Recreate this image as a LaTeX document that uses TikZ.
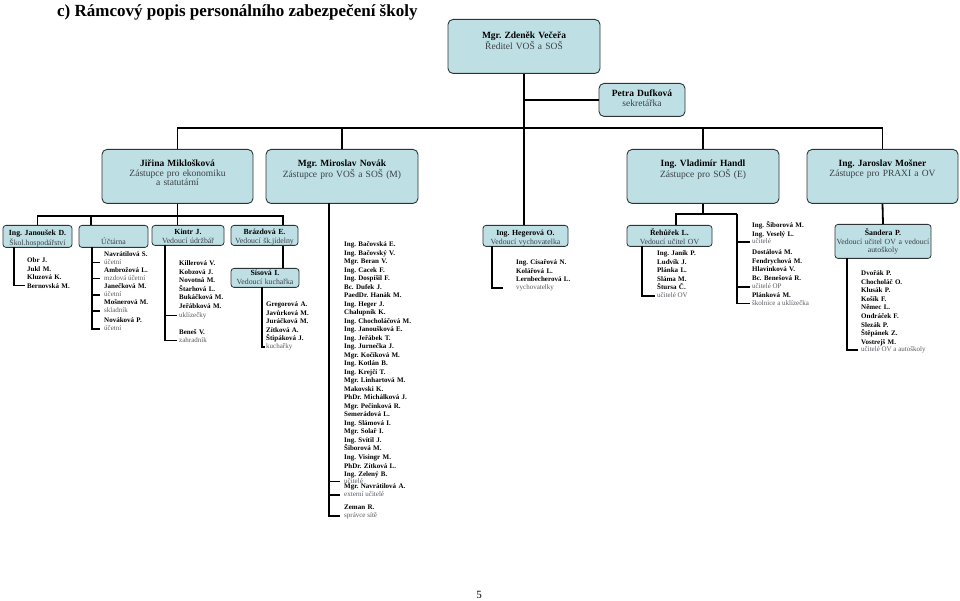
\documentclass[tikz,border=0pt]{standalone}
\usepackage{fontspec}
\setmainfont{Liberation Serif}
\usepackage{xcolor}
\usetikzlibrary{positioning}
\definecolor{boxfill}{HTML}{BEE0E4}
\definecolor{boxline}{HTML}{2E3336}
\definecolor{deptgrey}{HTML}{3A3F45}
\definecolor{rolegrey}{HTML}{55595F}
\newcommand{\dept}[1]{\textcolor{deptgrey}{#1}}
\tikzset{
  head/.style={rectangle, rounded corners=5pt, draw=boxline, fill=boxfill,
               line width=0.9pt, align=center, anchor=north, text width=#1,
               inner xsep=3pt, inner ysep=0pt, font=\fontsize{9.5}{9.5}\selectfont,
               text height=17.2pt, text depth=36.8pt},
  unit/.style={rectangle, rounded corners=3pt, draw=boxline, fill=boxfill,
               line width=0.8pt, align=center, anchor=north, text width=#1,
               inner xsep=1pt, inner ysep=0pt, font=\fontsize{7.8}{8.2}\selectfont,
               text height=10.6pt, text depth=11.4pt},
  who/.style={anchor=north west, align=left, text width=90pt, inner sep=0pt,
              text height=5pt, font=\bfseries\fontsize{7}{8.6}\selectfont},
  job/.style={anchor=west, inner sep=0pt, text height=5pt, text depth=1.6pt,
              text=rolegrey, font=\fontsize{7}{8.6}\selectfont},
  link/.style={line width=1.8pt, draw=black},
  stub/.style={link, shorten >=#1},
}

\begin{document}
\frenchspacing
\begin{tikzpicture}[x=1pt, y=-1pt]
  \useasboundingbox (0,0) rectangle (960,601);
  \node[anchor=west, inner sep=0pt, font=\bfseries\fontsize{17}{20}\selectfont] (title) at (57,12)
    {c) Rámcový popis personálního zabezpečení školy};

  % vedeni
  \node[head=146pt, text height=19.2pt, text depth=34.8pt] (dir) at (524,19)
    {\textbf{Mgr. Zdeněk Večeřa}\\ \dept{Ředitel VOŠ a SOŠ}};
  \node[head=80pt, text height=13.2pt, text depth=19.8pt] (petra) at (642,83)
    {\textbf{Petra Dufková}\\ \dept{sekretářka}};

  \node[head=145pt] (jirina) at (177.5,149) {\textbf{Jiřina Miklošková}\\ \dept{Zástupce pro ekonomiku}\\ \dept{a statutární}};
  \node[head=146pt] (novak) at (342,149) {\textbf{Mgr. Miroslav Novák}\\ \dept{Zástupce pro VOŠ a SOŠ (M)}};
  \node[head=146pt] (handl) at (703,149) {\textbf{Ing. Vladimír Handl}\\ \dept{Zástupce pro SOŠ (E)}};
  \node[head=145pt] (mosner) at (882.5,149) {\textbf{Ing. Jaroslav Mošner}\\ \dept{Zástupce pro PRAXI a OV}};

  % useky
  \node[unit=67pt] (janousek) at (37.5,225) {\textbf{Ing. Janoušek D.}\\ \dept{Škol.hospodářství}};
  \node[unit=67pt] (uctarna) at (113.5,225) {\mbox{}\\ \dept{Účtárna}};
  \node[unit=70pt, text height=9.6pt, text depth=10.4pt] (kintr) at (188,225) {\textbf{Kintr J.}\\ \dept{Vedoucí údržbář}};
  \node[unit=65pt, text height=9.6pt, text depth=10.4pt] (brazdova) at (264.5,225) {\textbf{Brázdová E.}\\ \dept{Vedoucí šk.jídelny}};
  \node[unit=66pt, text height=7.6pt, text depth=11.4pt] (sisova) at (265,268) {\textbf{Sísová I.}\\ \dept{Vedoucí kuchařka}};
  \node[unit=83pt, text depth=10.4pt] (hegerova) at (525.5,225) {\textbf{Ing. Hegerová O.}\\ \dept{Vedoucí vychovatelka}};
  \node[unit=83pt, text depth=10.4pt] (rehurek) at (669.5,225) {\textbf{Řehůřek L.}\\ \dept{Vedoucí učitel OV}};
  \node[unit=94pt, text height=11.6pt, text depth=22.4pt] (sandera) at (883,224)
    {\textbf{Šandera P.}\\ \dept{Vedoucí učitel OV a vedoucí}\\ \dept{autoškoly}};

  % lide
  \node[who] (janStaff) at (27,257.3) {Obr J.\\ Jukl M.\\ Kluzová K.\\ Bernovská M.};
  \node[who] (kinStaff) at (179,260.3) {Killerová V.\\ Kobzová J.\\ Novotná M.\\ Štarhová L.\\ Bukáčková M.\\ Jeřábková M.};
  \node[job] (kinJob1) at (179,315.5) {uklízečky};
  \node[who] (kinStaff2) at (179,329.3) {Beneš V.};
  \node[job] (kinJob2) at (179,340.5) {zahradník};
  \node[who] (sisStaff) at (266,301.3) {Gregorová A.\\ Javůrková M.\\ Juráčková M.\\ Zítková A.\\ Štipáková J.};
  \node[job] (sisJob) at (266,347) {kuchařky};
  \node[who, font=\bfseries\fontsize{7}{8.52}\selectfont] (tchStaff) at (344,241.3)
    {Ing. Bačovská E.\\ Ing. Bačovský V.\\ Mgr. Beran V.\\ Ing. Cacek F.\\ Ing. Dospíšil F.\\
     Bc. Dufek J.\\ PaedDr. Hanák M.\\ Ing. Heger J.\\ Chalupník K.\\ Ing. Chocholáčová M.\\
     Ing. Janoušková E.\\ Ing. Jeřábek T.\\ Ing. Jurnečka J.\\ Mgr. Kočíková M.\\ Ing. Kotlán B.\\
     Ing. Krejčí T.\\ Mgr. Linhartová M.\\ Makovski K.\\ PhDr. Michálková J.\\ Mgr. Pečinková R.\\
     Semerádová L.\\ Ing. Slámová I.\\ Mgr. Solař I.\\ Ing. Svítil J.\\ Šiborová M.\\
     Ing. Visingr M.\\ PhDr. Zítková L.\\ Ing. Zelený B.};
  \node[job] (tchJob1) at (344,481.5) {učitelé};
  \node[who] (extStaff) at (344,483.3) {Mgr. Navrátilová A.};
  \node[job] (tchJob2) at (344,495) {externí učitelé};
  \node[who] (netStaff) at (344,504.3) {Zeman R.};
  \node[job] (tchJob3) at (344,516) {správce sítě};
  \node[who] (hegStaff) at (516,259.3) {Ing. Císařová N.\\ Kolářová L.\\ Lernbecherová L.};
  \node[job] (hegJob) at (516,288) {vychovatelky};
  \node[who] (rehStaff) at (657,250.3) {Ing. Janík P.\\ Ludvík J.\\ Plánka L.\\ Sláma M.\\ Štursa Č.};
  \node[job] (rehJob) at (657,296) {učitelé OV};
  \node[who] (ovStaff) at (752,222.3) {Ing. Šiborová M.\\ Ing. Veselý L.};
  \node[job] (ovJob1) at (752,242) {učitelé};
  \node[who] (opStaff) at (752,249.3) {Dostálová M.\\ Fendrychová M.\\ Hlavinková V.\\ Bc. Benešová R.};
  \node[job] (ovJob2) at (752,287) {učitelé OP};
  \node[who] (janitorStaff) at (752,292.3) {Plánková M.};
  \node[job] (ovJob3) at (752,303.5) {školnice a uklízečka};
  \node[who] (sanStaff) at (861,270.3) {Dvořák P.\\ Chocholáč O.\\ Klusák P.\\ Košík F.\\ Němec L.\\ Ondráček F.\\ Slezák P.\\ Štěpánek Z.\\ Vostrejš M.};
  \node[job] (sanJob) at (861,350) {učitelé OV a autoškoly};

  \node[font=\fontsize{11}{12}\selectfont] (page) at (479,595) {5};

  % spoje
  \coordinate (topBus) at (525,128);
  \coordinate (ekoBus) at (283,216);
  \coordinate (uctTop) at (91,216);
  \coordinate (ovL) at (676,214);
  \coordinate (ovR) at (737,214);
  \coordinate (janV) at (14,247);
  \coordinate (janEnd) at (25,285.5);
  \coordinate (uctV) at (92,247);
  \coordinate (kinV) at (165,245);
  \coordinate (sisV) at (262,287);
  \coordinate (tchV) at (329,203);
  \coordinate (hegV) at (492,246);
  \coordinate (rehV) at (642,246);
  \coordinate (sanV) at (847,258);

  \draw[link] (dir.south) -- (dir.south |- hegerova.north);
  \draw[link] (dir.south |- petra.west) -- (petra.west);
  \draw[link] (jirina.north) |- (topBus) -| (mosner.north);
  \draw[link] (novak.north) -- (novak.north |- topBus);
  \draw[link] (handl.north) -- (handl.north |- topBus);

  \draw[link] (jirina.south) -- (jirina.south |- kintr.north);
  \draw[link] (janousek.north) |- (ekoBus) -- (ekoBus |- brazdova.north);
  \draw[link] (uctTop) -- (uctTop |- uctarna.north);
  \draw[link] (ekoBus |- brazdova.south) -- (ekoBus |- sisova.north);
  \draw[link] (handl.south) -- (handl.south |- ovL);
  \draw[link] (ovL |- rehurek.north) -- (ovL) -- (ovR);
  \draw[link] (mosner.south) -- (sandera.north);

  \draw[link] (janV) |- (janEnd);
  \foreach \nm/\rl/\y [count=\i] in {Navrátilová S./účetní/254, Ambrožová L./mzdová účetní/270,
      Janečková M./účetní/286.5, Mošnerová M./skladník/302, Nováková P./účetní/320} {
    \node[who] (uctName\i) at (104,\y-2.7) {\nm};
    \node[job] (uctJob\i) at (104,\y+8.6) {\rl};
    \draw[stub=4pt] (uctV) |- (uctJob\i.west);
  }
  \foreach \j in {kinJob1,kinJob2} \draw[stub=2pt] (kinV) |- (\j.west);
  \draw[stub=1pt] (sisV) |- (sisJob.west);
  \foreach \j in {tchJob1,tchJob2,tchJob3} \draw[stub=4pt] (tchV) |- (\j.west);
  \draw[stub=13pt] (hegV) |- (hegJob.west);
  \draw[stub=2pt] (rehV) |- (rehJob.west);
  \foreach \j in {ovJob1,ovJob2,ovJob3} \draw[stub=2pt] (ovR) |- (\j.west);
  \draw[stub=3pt] (sanV) |- (sanJob.west);
\end{tikzpicture}
\end{document}
